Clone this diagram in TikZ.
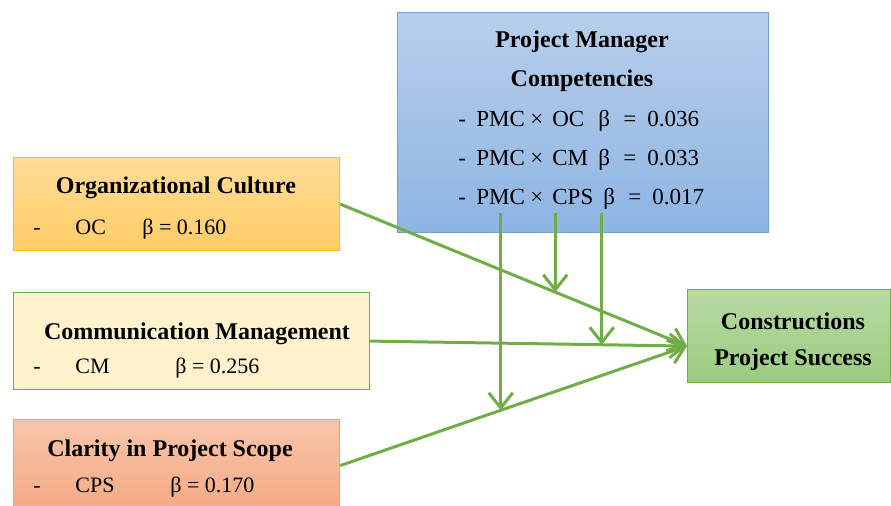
\documentclass[tikz,border=0pt]{standalone}
\usepackage{fontspec}
\setmainfont{Liberation Serif}
\usetikzlibrary{arrows.meta}
\usetikzlibrary{calc}
\usetikzlibrary{positioning}
\definecolor{arrowgreen}{HTML}{70AD47}
\definecolor{pmcedge}{HTML}{6FA0D8}
\definecolor{pmctop}{HTML}{B7CFEB}
\definecolor{pmcbot}{HTML}{8EB4E3}
\definecolor{ocedge}{HTML}{FFC000}
\definecolor{octop}{HTML}{FFDD96}
\definecolor{ocbot}{HTML}{FFCC66}
\definecolor{cmfill}{HTML}{FFF2CC}
\definecolor{cpsedge}{HTML}{F4A06A}
\definecolor{cpstop}{HTML}{F8C5A9}
\definecolor{cpsbot}{HTML}{F4A984}
\definecolor{succtop}{HTML}{B8DAA3}
\definecolor{succbot}{HTML}{9BCB7F}
\newcommand{\pmcrow}[3]{\makebox[9pt][l]{-}\makebox[27pt][l]{PMC}\makebox[11pt][l]{×}\makebox[#2][l]{#1}\makebox[12.5pt][l]{β}\makebox[12pt][l]{=}#3}
\tikzset{> = {Straight Barb[length = 7.5pt, width = 12pt]},
  box/.style = {anchor = north west, inner sep = 0pt, line width = 0.6pt},
  title/.style = {anchor = base, inner sep = 0pt, font = \bfseries\fontsize{12}{14}\selectfont},
  row/.style = {anchor = base west, inner sep = 0pt, font = \fontsize{11}{13}\selectfont},
  link/.style = {->, draw = arrowgreen, line width = 1.5pt}}

\begin{document}
\begin{tikzpicture}[x = 0.5pt, y = -0.5pt]
    \useasboundingbox (0,0) rectangle (891,506);
    % boxes
    \node [box, draw = pmcedge, top color = pmctop, bottom color = pmcbot, minimum width = 185.5pt, minimum height = 110pt] (pmc) at (397,12) {};
    \node [box, draw = ocedge, top color = octop, bottom color = ocbot, minimum width = 163pt, minimum height = 46.5pt] (oc) at (13,157) {};
    \node [box, draw = arrowgreen, fill = cmfill, minimum width = 178pt, minimum height = 48.5pt] (cm) at (13,292) {};
    \node [box, draw = cpsedge, top color = cpstop, bottom color = cpsbot, minimum width = 163pt, minimum height = 46pt] (cps) at (13,419) {};
    \node [box, draw = arrowgreen, top color = succtop, bottom color = succbot, minimum width = 101.5pt, minimum height = 46.5pt] (succ) at (687,289) {};
    % texts
    \node [title] (pmct1) at (582,48) {Project Manager};
    \node [title] (pmct2) at (582,87) {Competencies};
    \node [row, font = \fontsize{11.5}{13}\selectfont] (pmcoc) at (458,127) {\pmcrow{OC}{23pt}{0.036}};
    \node [row, font = \fontsize{11.5}{13}\selectfont] (pmccm) at (458,166) {\pmcrow{CM}{23pt}{0.033}};
    \node [row, font = \fontsize{11.5}{13}\selectfont] (pmccps) at (458,205) {\pmcrow{CPS}{25.5pt}{0.017}};
    \node [title] (oct) at (176,194) {Organizational Culture};
    \node [row] (ocb) at (33,235) {\makebox[21pt][l]{-}\makebox[33.5pt][l]{OC}β = 0.160};
    \node [title] (cmt) at (197,340) {Communication Management};
    \node [row] (cmb) at (33,374) {\makebox[21pt][l]{-}\makebox[50pt][l]{CM}β = 0.256};
    \node [title] (cpst) at (170,457) {Clarity in Project Scope};
    \node [row] (cpsb) at (33,493) {\makebox[21pt][l]{-}\makebox[47.5pt][l]{CPS}β = 0.170};
    \node [title] (succt1) at (793,330) {Constructions};
    \node [title] (succt2) at (793,366) {Project Success};
    % paths
    \coordinate (in) at ([yshift = -5pt]succ.west);
    \coordinate (pbase) at ([yshift = 10pt]pmc.south);
    \coordinate (m1) at ($(oc.east)!0.62!(in)$);
    \coordinate (m2) at ($(cm.east)!0.731!(in)$);
    \coordinate (m3) at ($(cps.east)!0.463!(in)$);
    \draw [link] (oc.east) -- (in);
    \draw [link] (cm.east) -- (in);
    \draw [link] (cps.east) -- (in);
    \draw [link] (m1 |- pbase) -- (m1);
    \draw [link] (m2 |- pbase) -- (m2);
    \draw [link] (m3 |- pbase) -- (m3);
\end{tikzpicture}
\end{document}
